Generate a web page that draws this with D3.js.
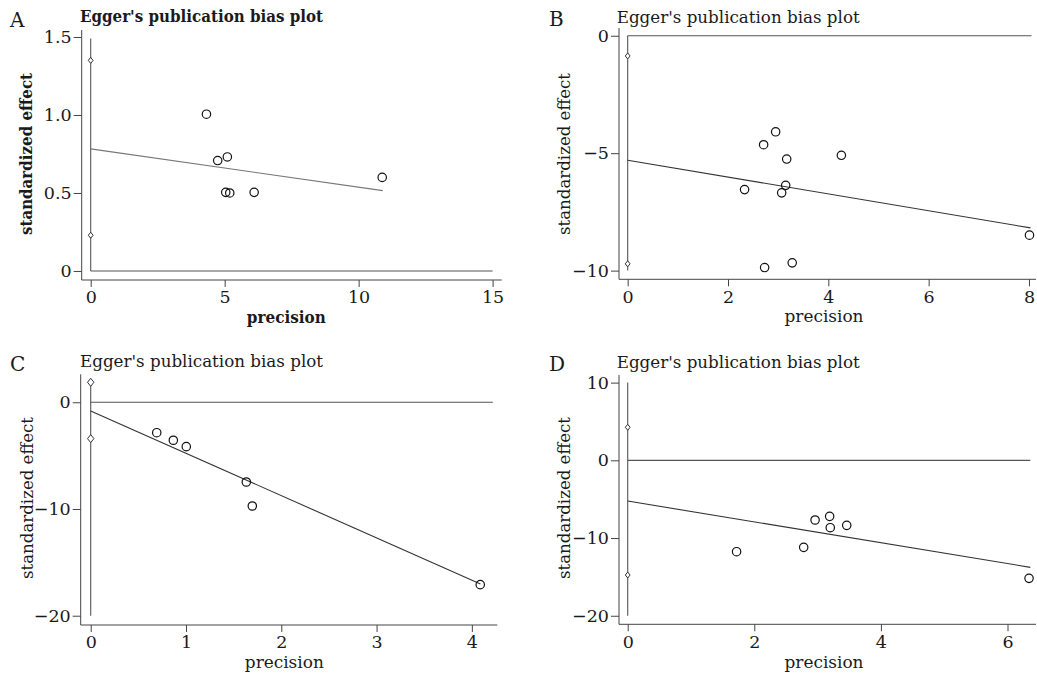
<!DOCTYPE html>
<html>
<head>
<meta charset="utf-8">
<script src="https://cdn.jsdelivr.net/npm/d3@7"></script>
<style>
  html, body { margin: 0; padding: 0; background: #fff; }
  svg { display: block; }
  text { font-family: "DejaVu Serif", "Liberation Serif", serif; fill: #1a1a1a; }
</style>
</head>
<body>
<svg id="chart" width="1037" height="675"></svg>
<script>
// ---------- DATA ----------
const panelLetters = ["A", "B", "C", "D"];
const titleText = "Egger's publication bias plot";
const xLabelText = "precision";
const yLabelText = "standardized effect";

// Panel A
const precisionA = [4.32, 4.74, 5.10, 5.04, 5.19, 6.10, 10.88];
const effectA    = [1.005, 0.708, 0.731, 0.504, 0.500, 0.504, 0.600];
const fitXA = [0, 10.9];
const fitYA = [0.783, 0.515];
const ciA = [1.35, 0.229];
const xTicksA = [0, 5, 10, 15];
const yTicksA = [0, 0.5, 1.0, 1.5];
const yTickLabelsA = ["0", "0.5", "1.0", "1.5"];

// Panel B
const precisionB = [2.33, 2.71, 2.95, 3.17, 3.15, 3.07, 4.26, 2.73, 3.28, 8.01];
const effectB    = [-6.55, -4.64, -4.09, -5.25, -6.37, -6.69, -5.09, -9.87, -9.67, -8.49];
const fitXB = [0, 8.03];
const fitYB = [-5.30, -8.18];
const ciB = [-0.86, -9.71];
const xTicksB = [0, 2, 4, 6, 8];
const yTicksB = [-10, -5, 0];

// Panel C
const precisionC = [0.693, 0.867, 1.003, 1.633, 1.696, 4.088];
const effectC    = [-2.85, -3.56, -4.16, -7.47, -9.72, -17.09];
const fitXC = [0, 4.09];
const fitYC = [-0.82, -17.03];
const ciC = [1.87, -3.41];
const xTicksC = [0, 1, 2, 3, 4];
const yTicksC = [-20, -10, 0];

// Panel D
const precisionD = [1.72, 2.78, 2.96, 3.19, 3.20, 3.46, 6.34];
const effectD    = [-11.76, -11.2, -7.68, -7.21, -8.67, -8.37, -15.19];
const fitXD = [0, 6.36];
const fitYD = [-5.24, -13.77];
const ciD = [4.25, -14.76];
const xTicksD = [0, 2, 4, 6];
const yTicksD = [-20, -10, 0, 10];

// reference lines (value ranges)
const vLineA = [0, 1.49], hLineEndA = 15;
const vLineB = [0, -10], hLineEndB = 8.05;
const vLineC = [1.87, -20], hLineEndC = 4.22;
const vLineD = [10, -20], hLineEndD = 6.36;

// ---------- LAYOUT ----------
const panels = [
  { letter: panelLetters[0], bold: true,
    xs: precisionA, ys: effectA, fitX: fitXA, fitY: fitYA, ci: ciA,
    xTicks: xTicksA, yTicks: yTicksA, yTickLabels: yTickLabelsA,
    vLine: vLineA, hEnd: hLineEndA,
    xDom: [-0.336, 15.34], xRange: [81.7, 501.7],
    yDom: [-0.058, 1.545], yRange: [280, 30],
    letterPos: [10, 26.5], titlePos: [80, 21.7], yLabPos: [32.3, 154], xLabPos: [286.3, 322.5],
    fitColor: "#777", ciDiamond: 3 },
  { letter: panelLetters[1], bold: false,
    xs: precisionB, ys: effectB, fitX: fitXB, fitY: fitYB, ci: ciB,
    xTicks: xTicksB, yTicks: yTicksB,
    vLine: vLineB, hEnd: hLineEndB,
    xDom: [-0.173, 8.14], xRange: [619, 1036],
    yDom: [-10.37, 0.33], yRange: [279.3, 28],
    letterPos: [549, 26], titlePos: [616.7, 22.5], yLabPos: [569.5, 154], xLabPos: [824, 322.3],
    fitColor: "#333", ciDiamond: 3 },
  { letter: panelLetters[2], bold: false,
    xs: precisionC, ys: effectC, fitX: fitXC, fitY: fitYC, ci: ciC,
    xTicks: xTicksC, yTicks: yTicksC,
    vLine: vLineC, hEnd: hLineEndC,
    xDom: [-0.105, 4.267], xRange: [80.7, 497.3],
    yDom: [-20.87, 2.62], yRange: [625, 374.3],
    letterPos: [10, 371], titlePos: [80, 367.3], yLabPos: [32.5, 498], xLabPos: [284.3, 668],
    fitColor: "#333", ciDiamond: 4 },
  { letter: panelLetters[3], bold: false,
    xs: precisionD, ys: effectD, fitX: fitXD, fitY: fitYD, ci: ciD,
    xTicks: xTicksD, yTicks: yTicksD,
    vLine: vLineD, hEnd: hLineEndD,
    xDom: [-0.1375, 6.45], xRange: [619, 1036],
    yDom: [-21.1, 10.98], yRange: [624.3, 375],
    letterPos: [549, 371], titlePos: [616.7, 367.5], yLabPos: [569.5, 498], xLabPos: [824, 668],
    fitColor: "#333", ciDiamond: 3 }
];

const svg = d3.select("#chart");

panels.forEach(p => {
  const g = svg.append("g");
  const x = d3.scaleLinear().domain(p.xDom).range(p.xRange);
  const y = d3.scaleLinear().domain(p.yDom).range(p.yRange);
  const weight = p.bold ? "bold" : "normal";

  // panel letter
  g.append("text").attr("x", p.letterPos[0]).attr("y", p.letterPos[1])
    .attr("font-size", 20).text(p.letter);

  // title
  g.append("text").attr("x", p.titlePos[0]).attr("y", p.titlePos[1])
    .attr("font-size", 16).attr("font-weight", weight)
    .attr("textLength", 243).attr("lengthAdjust", "spacingAndGlyphs")
    .text(titleText);

  // axes
  const xAxis = d3.axisBottom(x).tickValues(p.xTicks).tickSize(7).tickPadding(4)
    .tickFormat(d3.format("d"));
  const yAxis = d3.axisLeft(y).tickValues(p.yTicks).tickSize(8).tickPadding(2)
    .tickFormat((d, i) => p.yTickLabels ? p.yTickLabels[i] : d3.format("d")(d));

  const gx = g.append("g").attr("transform", `translate(0,${p.yRange[0]})`).call(xAxis);
  const gy = g.append("g").attr("transform", `translate(${p.xRange[0]},0)`).call(yAxis);
  [gx, gy].forEach(a => {
    a.select(".domain").attr("d", null);
    a.selectAll(".tick line").attr("stroke", "#444");
    a.selectAll(".tick text").attr("font-size", 17.5)
      .attr("font-family", "'DejaVu Serif', serif").attr("fill", "#1a1a1a");
  });
  // axis lines
  g.append("line").attr("x1", p.xRange[0]).attr("x2", p.xRange[1])
    .attr("y1", p.yRange[0]).attr("y2", p.yRange[0]).attr("stroke", "#444");
  g.append("line").attr("x1", p.xRange[0]).attr("x2", p.xRange[0])
    .attr("y1", p.yRange[0]).attr("y2", p.yRange[1]).attr("stroke", "#444");

  // axis titles
  g.append("text").attr("transform", `translate(${p.yLabPos[0]},${p.yLabPos[1]}) rotate(-90)`)
    .attr("text-anchor", "middle").attr("font-size", 16.5).attr("font-weight", weight)
    .attr("textLength", 162).attr("lengthAdjust", "spacingAndGlyphs")
    .text(yLabelText);
  g.append("text").attr("x", p.xLabPos[0]).attr("y", p.xLabPos[1])
    .attr("text-anchor", "middle").attr("font-size", 16.5).attr("font-weight", weight)
    .attr("textLength", 79).attr("lengthAdjust", "spacingAndGlyphs")
    .text(xLabelText);

  // reference lines
  g.append("line").attr("x1", x(0)).attr("x2", x(p.hEnd))
    .attr("y1", y(0)).attr("y2", y(0)).attr("stroke", "#555").attr("stroke-width", 1.1);
  g.append("line").attr("x1", x(0)).attr("x2", x(0))
    .attr("y1", y(p.vLine[0])).attr("y2", y(p.vLine[1])).attr("stroke", "#555").attr("stroke-width", 1.1);

  // regression line
  g.append("line").attr("x1", x(p.fitX[0])).attr("x2", x(p.fitX[1]))
    .attr("y1", y(p.fitY[0])).attr("y2", y(p.fitY[1]))
    .attr("stroke", p.fitColor).attr("stroke-width", 1.1);

  // CI markers (hollow diamonds)
  const s = p.ciDiamond;
  g.selectAll(".ci").data(p.ci).enter().append("path")
    .attr("d", d => `M${x(0)},${y(d) - s} L${x(0) + s * 0.8},${y(d)} L${x(0)},${y(d) + s} L${x(0) - s * 0.8},${y(d)} Z`)
    .attr("fill", "#fff").attr("stroke", "#333").attr("stroke-width", 1);

  // study points
  g.selectAll(".pt").data(p.xs.map((v, i) => [v, p.ys[i]])).enter().append("circle")
    .attr("cx", d => x(d[0])).attr("cy", d => y(d[1])).attr("r", 4.2)
    .attr("fill", "none").attr("stroke", "#111").attr("stroke-width", 1.2);
});
</script>
</body>
</html>
